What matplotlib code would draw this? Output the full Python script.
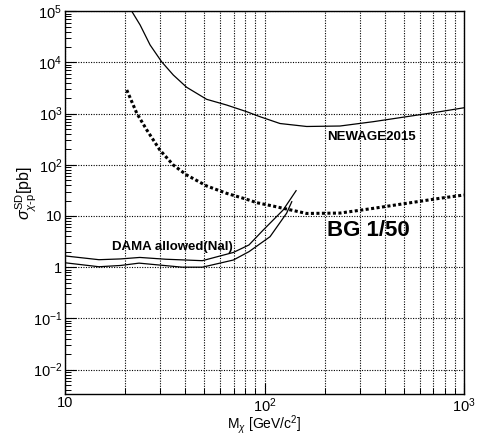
import numpy as np
import matplotlib
matplotlib.use('Agg')
import matplotlib.pyplot as plt
from matplotlib.ticker import LogLocator, NullFormatter, FixedLocator, FuncFormatter

plt.rcParams['font.family'] = ['Liberation Sans', 'DejaVu Sans']
plt.rcParams['mathtext.fontset'] = 'custom'
plt.rcParams['mathtext.rm'] = 'Liberation Sans'
plt.rcParams['mathtext.it'] = 'Liberation Sans:italic'
plt.rcParams['mathtext.bf'] = 'Liberation Sans:bold'

# NEWAGE2015 limit (solid)
newage_m = [21.6, 23.8, 26.7, 30.5, 34.9, 40.7, 51.3, 64.6, 81.4, 94.9, 119.6, 162.7, 239, 351, 516, 758, 1000]
newage_s = [1.0e5, 5.38e4, 2.19e4, 1.03e4, 5.67e3, 3.27e3, 1.90e3, 1.47e3, 1.09e3, 870, 640, 560, 572, 695, 871, 1090, 1300]

# BG 1/50 projection (dotted)
bg_m = [20.4, 22.9, 25.7, 29.9, 34.9, 40.7, 51.3, 64.6, 81.4, 91.4, 110.6, 162.7, 239, 351, 516, 758, 1000]
bg_s = [2890, 1014, 479, 194, 99, 63.3, 38.6, 27.7, 21.2, 18.2, 15.6, 11.2, 11.4, 14.1, 17.7, 22.2, 25.7]

# DAMA allowed region (NaI), upper and lower contour
dama_up_m = [10, 14.8, 19.0, 23.7, 32, 48.8, 69.8, 83.6, 98.6, 124, 144]
dama_up_s = [1.66, 1.40, 1.45, 1.55, 1.43, 1.34, 1.94, 2.72, 5.33, 13.1, 31.2]
dama_lo_m = [10, 14.8, 19.0, 23.5, 38.7, 48.8, 69.8, 83.6, 106.6, 129, 137]
dama_lo_s = [1.22, 1.02, 1.08, 1.20, 1.0, 1.0, 1.38, 2.01, 3.94, 11.3, 19.0]

fig = plt.figure(figsize=(4.93, 4.36), dpi=100)
ax = fig.add_axes([65/493, 42/436, 399/493, 382.8/436])

ax.plot(newage_m, newage_s, color='k', lw=0.9)
ax.plot(bg_m, bg_s, color='k', lw=2.2, linestyle=(0, (1, 0.8)), dash_capstyle='butt')
ax.plot(dama_up_m, dama_up_s, color='k', lw=0.9)
ax.plot(dama_lo_m, dama_lo_s, color='k', lw=0.9)

ax.set_xscale('log')
ax.set_yscale('log')
ax.set_xlim(10, 1000)
ax.set_ylim(10**-2.477, 1e5)

def log_label(v, pos):
    e = int(round(np.log10(v)))
    if e == 0:
        return '1'
    if e == 1:
        return '10'
    return r'$10^{%d}$' % e

ax.xaxis.set_major_locator(FixedLocator([10, 100, 1000]))
ax.xaxis.set_minor_locator(LogLocator(base=10, subs=np.arange(2, 10), numticks=100))
ax.yaxis.set_major_locator(LogLocator(base=10, numticks=100))
ax.yaxis.set_minor_locator(LogLocator(base=10, subs=np.arange(2, 10), numticks=100))
ax.xaxis.set_major_formatter(FuncFormatter(log_label))
ax.yaxis.set_major_formatter(FuncFormatter(log_label))
ax.xaxis.set_minor_formatter(NullFormatter())
ax.yaxis.set_minor_formatter(NullFormatter())

ax.tick_params(which='both', direction='in', top=False, right=False, labelsize=10.5)
ax.tick_params(which='major', length=8, width=0.8)
ax.tick_params(which='minor', length=4, width=0.7)
ax.tick_params(axis='x', pad=1.5)
ax.tick_params(axis='y', pad=2)

ax.grid(which='major', axis='both', color='k', lw=0.8, linestyle=(0, (1, 1.3)))
ax.grid(which='minor', axis='x', color='k', lw=0.8, linestyle=(0, (1, 1.3)))
for s in ax.spines.values():
    s.set_linewidth(1.0)

ax.text(206, 349, 'NEWAGE2015', fontsize=9.5, fontweight='bold', va='center', ha='left')
ax.text(206, 5.3, 'BG 1/50', fontsize=16, fontweight='bold', va='center', ha='left')
ax.text(17.2, 2.48, 'DAMA allowed(NaI)', fontsize=9.5, fontweight='bold', va='center', ha='left')

ax.set_xlabel(r'M$_{\chi}$ [GeV/c$^{2}$]', fontsize=10)
ax.xaxis.set_label_coords(0.5, -0.051)
ax.xaxis.label.set_va('top')
ax.set_ylabel(r'$\sigma^{\mathrm{SD}}_{\chi\mathrm{\text{-}p}}$[pb]', fontsize=11.5)
ax.yaxis.set_label_coords(-0.064, 0.525)

fig.savefig('out.png', dpi=100)
